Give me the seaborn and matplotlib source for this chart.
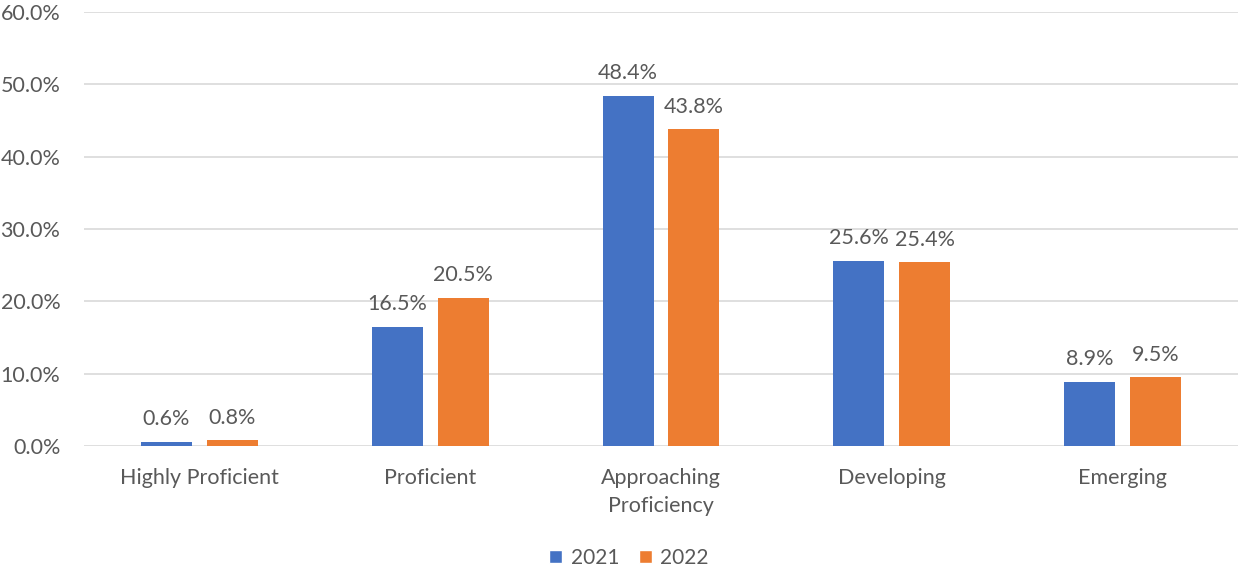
import matplotlib
matplotlib.use("Agg")
import matplotlib.pyplot as plt
from matplotlib.patches import Patch
from matplotlib.ticker import FuncFormatter
import seaborn as sns
import pandas as pd

categories = ["Highly Proficient", "Proficient", "Approaching\nProficiency", "Developing", "Emerging"]
years = ["2021", "2022"]
values_2021 = [0.6, 16.5, 48.4, 25.6, 8.9]
values_2022 = [0.8, 20.5, 43.8, 25.4, 9.5]
y_ticks = [0, 10, 20, 30, 40, 50, 60]

df = pd.DataFrame({
    "category": categories * 2,
    "year": [years[0]] * len(categories) + [years[1]] * len(categories),
    "value": values_2021 + values_2022,
})

sns.set_theme(style="white")
plt.rcParams["font.family"] = ["Lato", "DejaVu Sans"]

text_color = "#595959"
fs = 15.5
palette = {"2021": "#4472C4", "2022": "#ED7D31"}

fig = plt.figure(figsize=(12.38, 5.72), dpi=100)
ax = fig.add_axes([84 / 1238, 1 - 446 / 572, 1 - 84 / 1238, (446 - 12) / 572])

sns.barplot(data=df, x="category", y="value", hue="year", order=categories,
            hue_order=years, palette=palette, width=0.571, gap=0.227,
            saturation=1, linewidth=0, legend=False, ax=ax)

for container in ax.containers:
    ax.bar_label(container, labels=[f"{v:.1f}%" for v in container.datavalues],
                 padding=9, fontsize=fs, color=text_color)

ax.set_ylim(0, 60)
ax.set_xlim(-0.5, len(categories) - 0.5)
ax.set_yticks(y_ticks)
ax.yaxis.set_major_formatter(FuncFormatter(lambda v, _: f"{v:.1f}%"))
ax.grid(axis="y", color="#D9D9D9", linewidth=1.2)
ax.set_axisbelow(True)
for s in ax.spines.values():
    s.set_visible(False)
ax.tick_params(axis="both", length=0, labelsize=fs, colors=text_color)
ax.tick_params(axis="x", pad=16)
ax.tick_params(axis="y", pad=17)
for lbl in ax.get_xticklabels():
    lbl.set_linespacing(1.5)
ax.set_xlabel("")
ax.set_ylabel("")

handles = [Patch(facecolor=palette[y], label=y) for y in years]
fig.legend(handles=handles, loc="center", bbox_to_anchor=(0.508, 1 - 558 / 572),
           ncol=2, frameon=False, fontsize=15, handlelength=0.63, handleheight=0.63,
           handletextpad=0.4, columnspacing=0.95, labelcolor=text_color)

fig.savefig("out.png", dpi=100)
